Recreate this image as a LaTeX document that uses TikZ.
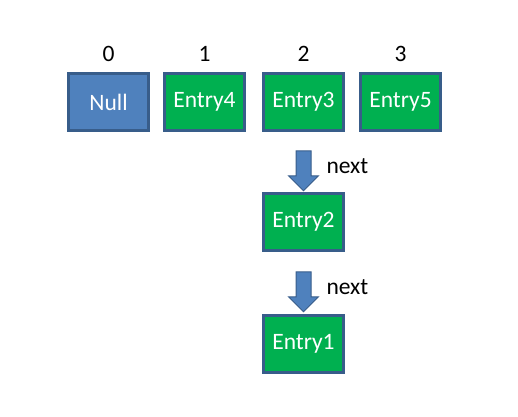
\documentclass[tikz,border=0pt]{standalone}
\usepackage{fontspec}
\setmainfont{Carlito}
\usetikzlibrary{shapes.arrows,calc}

\definecolor{nullblue}{HTML}{4F81BD}
\definecolor{edgeblue}{HTML}{385D8A}
\definecolor{entrygreen}{HTML}{00B050}

\tikzset{
  slot/.style={rectangle, draw=edgeblue, line width=3pt, minimum width=80pt,
    minimum height=57pt, text=white, font=\fontsize{23.5}{28}\selectfont},
  nextarrow/.style={single arrow, draw=edgeblue, line width=1pt, fill=nullblue,
    shape border rotate=270, minimum height=40pt, minimum width=30pt,
    single arrow head extend=7.5pt, single arrow head indent=0pt, inner sep=7pt},
  tag/.style={font=\fontsize{23.5}{28}\selectfont}
}

\begin{document}
\begin{tikzpicture}[x=1pt, y=-1pt]
    \useasboundingbox (0, 0) rectangle (518, 416);

    \node[slot, fill=nullblue] (null) at (108.5, 102) {Null};
    \node[slot, fill=entrygreen] (e4) at (204.5, 102) {Entry4};
    \node[slot, fill=entrygreen] (e3) at (303.5, 102) {Entry3};
    \node[slot, fill=entrygreen] (e5) at (400.5, 102) {Entry5};
    \node[slot, fill=entrygreen] (e2) at (303.5, 222) {Entry2};
    \node[slot, fill=entrygreen] (e1) at (303.5, 344) {Entry1};

    % 添字
    \node[tag] (i0) at (108.5, 54) {0};
    \node[tag] (i1) at (204.5, 54) {1};
    \node[tag] (i2) at (303.5, 54) {2};
    \node[tag] (i3) at (400.5, 54) {3};

    % next の矢印
    \node[nextarrow] (a32) at ($(e3.south)!0.5!(e2.north)$) [yshift=-5pt] {};
    \node[nextarrow] (a21) at ($(e2.south)!0.5!(e1.north)$) [yshift=-5pt] {};
    \node[tag, anchor=west] (n32) at (323, 166) {next};
    \node[tag, anchor=west] (n21) at (323, 287) {next};
\end{tikzpicture}
\end{document}
